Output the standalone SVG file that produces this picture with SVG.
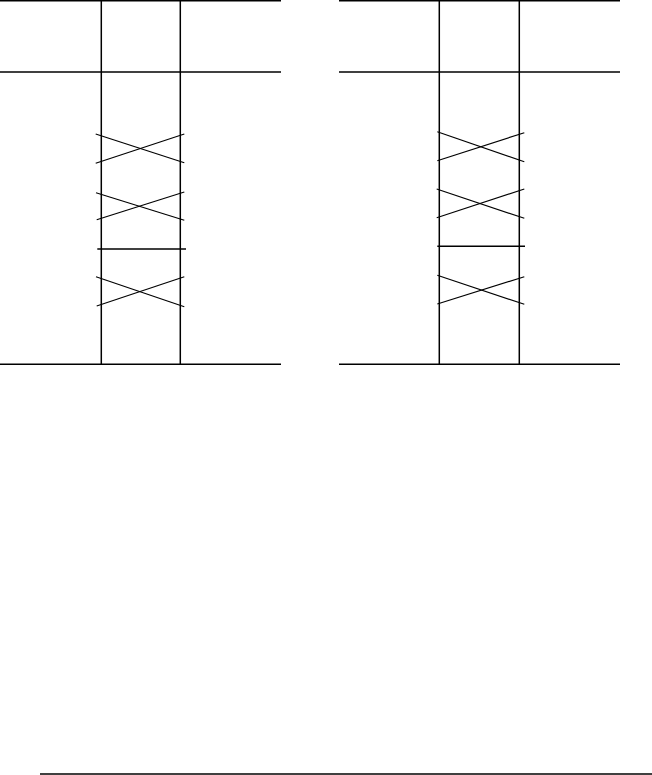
<svg xmlns="http://www.w3.org/2000/svg" width="652" height="775" viewBox="0 0 652 775">
<style>
.t{stroke:#000;stroke-width:1.5;fill:none}
.x{stroke:#000;stroke-width:1.2;fill:none}
</style>
<rect width="652" height="775" fill="#fff"/>
<g id="table-left">
<line class="t" x1="0" y1="0.8" x2="281" y2="0.8"/>
<line class="t" x1="0" y1="72" x2="281" y2="72"/>
<line class="t" x1="0" y1="364.3" x2="281" y2="364.3"/>
<line class="t" x1="101.3" y1="0" x2="101.3" y2="364.3"/>
<line class="t" x1="180.3" y1="0" x2="180.3" y2="364.3"/>
</g>
<g id="table-right">
<line class="t" x1="339" y1="0.8" x2="620" y2="0.8"/>
<line class="t" x1="339" y1="72" x2="620" y2="72"/>
<line class="t" x1="339" y1="364.3" x2="620" y2="364.3"/>
<line class="t" x1="439.3" y1="0" x2="439.3" y2="364.3"/>
<line class="t" x1="519.3" y1="0" x2="519.3" y2="364.3"/>
</g>
<g id="connectors">
<line class="x" x1="95.7" y1="134" x2="184.3" y2="162.7"/>
<line class="x" x1="95.7" y1="163.3" x2="184.3" y2="134"/>
<line class="x" x1="96" y1="192.7" x2="184.3" y2="220.3"/>
<line class="x" x1="96.7" y1="219.7" x2="184.3" y2="192"/>
<line class="t" x1="97.3" y1="249" x2="186" y2="249"/>
<line class="x" x1="96" y1="276.7" x2="184.3" y2="306.7"/>
<line class="x" x1="96.7" y1="306" x2="184.3" y2="276.7"/>
<line class="x" x1="437.3" y1="131.7" x2="524.3" y2="161.7"/>
<line class="x" x1="437.3" y1="160.7" x2="524.3" y2="132.7"/>
<line class="x" x1="436.7" y1="189" x2="524.3" y2="218.3"/>
<line class="x" x1="436.7" y1="217.7" x2="524.3" y2="189"/>
<line class="t" x1="437.3" y1="246.3" x2="525" y2="246.3"/>
<line class="x" x1="437.3" y1="275.3" x2="524.3" y2="304.3"/>
<line class="x" x1="437.3" y1="304" x2="524.3" y2="276.7"/>
</g>
<g id="footer-rule">
<line class="t" x1="40" y1="774" x2="652" y2="774"/>
</g>
</svg>
